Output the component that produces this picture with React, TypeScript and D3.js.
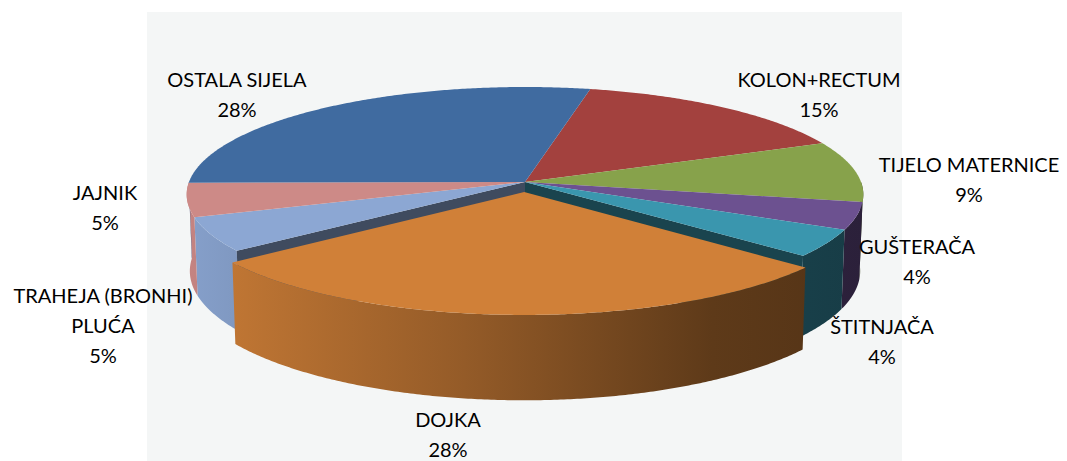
import React from "react";
import * as d3 from "d3";

// data, clockwise from the top of the pie
const categories = [
  "KOLON+RECTUM",
  "TIJELO MATERNICE",
  "GUŠTERAČA",
  "ŠTITNJAČA",
  "DOJKA",
  "TRAHEJA (BRONHI) PLUĆA",
  "JAJNIK",
  "OSTALA SIJELA",
];
const shares = [15, 9, 4, 4, 28, 5, 5, 28];
const sliceColors = [
  "#A3413E",
  "#87A24B",
  "#6C5190",
  "#3A96AE",
  "#D08038",
  "#8CA7D3",
  "#CD8A87",
  "#406BA0",
];
const labelLines = [
  ["KOLON+RECTUM"],
  ["TIJELO MATERNICE"],
  ["GUŠTERAČA"],
  ["ŠTITNJAČA"],
  ["DOJKA"],
  ["TRAHEJA (BRONHI)", "PLUĆA"],
  ["JAJNIK"],
  ["OSTALA SIJELA"],
];
const explodedCategory = "DOJKA";

// label anchors: centre x, baseline of first line
const labelAnchors: [number, number][] = [
  [819, 87],
  [969, 172],
  [917, 254],
  [882, 334],
  [448, 427],
  [103, 303],
  [105, 200],
  [237, 87],
];

let width = 1067;
let height = 461;
let cx = 525;
let cy = 182;
let focal = 2742;
let distance = 8.16;
let tilt = Math.asin(0.3156);
let thickness = 0.24;
let explode = 0.094;
let startAngle = (12.5 * Math.PI) / 180;
let lineGap = 30;

let project = (X: number, Y: number, Z: number): [number, number] => {
  let yc = Y * Math.cos(tilt) + Z * Math.sin(tilt);
  let zc = -Y * Math.sin(tilt) + Z * Math.cos(tilt) + distance;
  return [cx + (focal * X) / zc, cy - (focal * yc) / zc];
};

let rim = (a0: number, a1: number, Y: number, ox: number, oz: number) => {
  let n = Math.max(2, Math.ceil((a1 - a0) / (Math.PI / 360)) + 1);
  return d3.range(n).map((k) => {
    let t = a0 + ((a1 - a0) * k) / (n - 1);
    return project(ox + Math.sin(t), Y, oz + Math.cos(t));
  });
};

let shadeStops = [185, 465, 712, 865];
let shade = d3
  .scaleLinear()
  .domain(shadeStops)
  .range([0.96, 0.71, 0.45, 0.4])
  .clamp(true);

let darken = (c: string, k: number) => {
  let r = d3.rgb(c);
  return d3.rgb(r.r * k, r.g * k, r.b * k).formatHex();
};

let line = d3.line();

const App = () => {
  let arcs = d3
    .pie<number>()
    .sort(null)
    .value((d) => d)
    .startAngle(startAngle)
    .endAngle(startAngle + 2 * Math.PI)(shares);

  let slices = arcs.map((a, i) => {
    let out = categories[i] === explodedCategory;
    let mid = (a.startAngle + a.endAngle) / 2;
    let ox = out ? explode * Math.sin(mid) : 0;
    let oz = out ? explode * Math.cos(mid) : 0;
    let top =
      line([project(ox, 0, oz), ...rim(a.startAngle, a.endAngle, 0, ox, oz)]) +
      "Z";
    let v0 = Math.max(a.startAngle, Math.PI / 2);
    let v1 = Math.min(a.endAngle, (3 * Math.PI) / 2);
    let side =
      v1 > v0
        ? line([
            ...rim(v0, v1, 0, ox, oz),
            ...rim(v0, v1, -thickness, ox, oz).reverse(),
          ]) + "Z"
        : null;
    return { i, out, top, side, a };
  });

  let n = shares.length;
  let walls: { d: string; color: string }[] = [];
  slices.forEach((s) => {
    if (s.out) return;
    let next = slices[(s.i + 1) % n];
    let prev = slices[(s.i - 1 + n) % n];
    let wallAt = (t: number) =>
      line([
        project(0, 0, 0),
        project(Math.sin(t), 0, Math.cos(t)),
        project(Math.sin(t), -thickness, Math.cos(t)),
        project(0, -thickness, 0),
      ]) + "Z";
    if (next.out && Math.sin(s.a.endAngle) > 0)
      walls.push({ d: wallAt(s.a.endAngle), color: darken(sliceColors[s.i], 0.45) });
    if (prev.out && Math.sin(s.a.startAngle) < 0)
      walls.push({ d: wallAt(s.a.startAngle), color: darken(sliceColors[s.i], 0.45) });
  });

  let inner = slices.filter((s) => !s.out);
  let outer = slices.filter((s) => s.out);

  return (
    <svg
      width={width}
      height={height}
      style={{ position: "absolute", left: 0, top: 0, background: "#fff" }}
    >
      <defs>
        {slices.map((s) => (
          <linearGradient
            key={s.i}
            id={"side-" + s.i}
            gradientUnits="userSpaceOnUse"
            x1={shadeStops[0]}
            x2={shadeStops[shadeStops.length - 1]}
            y1={0}
            y2={0}
          >
            {shadeStops.map((x) => (
              <stop
                key={x}
                offset={
                  (x - shadeStops[0]) /
                  (shadeStops[shadeStops.length - 1] - shadeStops[0])
                }
                stopColor={darken(sliceColors[s.i], shade(x))}
              />
            ))}
          </linearGradient>
        ))}
      </defs>
      <rect x={147} y={12} width={755} height={449} fill="#F4F6F6" />
      <g>
        {inner.map((s) =>
          s.side ? <path key={"s" + s.i} d={s.side} fill={`url(#side-${s.i})`} /> : null
        )}
        {walls.map((w, k) => (
          <path key={"w" + k} d={w.d} fill={w.color} />
        ))}
        {inner.map((s) => (
          <path key={"t" + s.i} d={s.top} fill={sliceColors[s.i]} />
        ))}
        {outer.map((s) =>
          s.side ? <path key={"s" + s.i} d={s.side} fill={`url(#side-${s.i})`} /> : null
        )}
        {outer.map((s) => (
          <path key={"t" + s.i} d={s.top} fill={sliceColors[s.i]} />
        ))}
      </g>
      <g fontFamily="Lato, sans-serif" fontSize={20} fill="#000" textAnchor="middle">
        {labelLines.map((lines, i) => (
          <text key={i} x={labelAnchors[i][0]} y={labelAnchors[i][1]}>
            {[...lines, shares[i] + "%"].map((t, k) => (
              <tspan key={k} x={labelAnchors[i][0]} dy={k === 0 ? 0 : lineGap}>
                {t}
              </tspan>
            ))}
          </text>
        ))}
      </g>
    </svg>
  );
};

export default App;
